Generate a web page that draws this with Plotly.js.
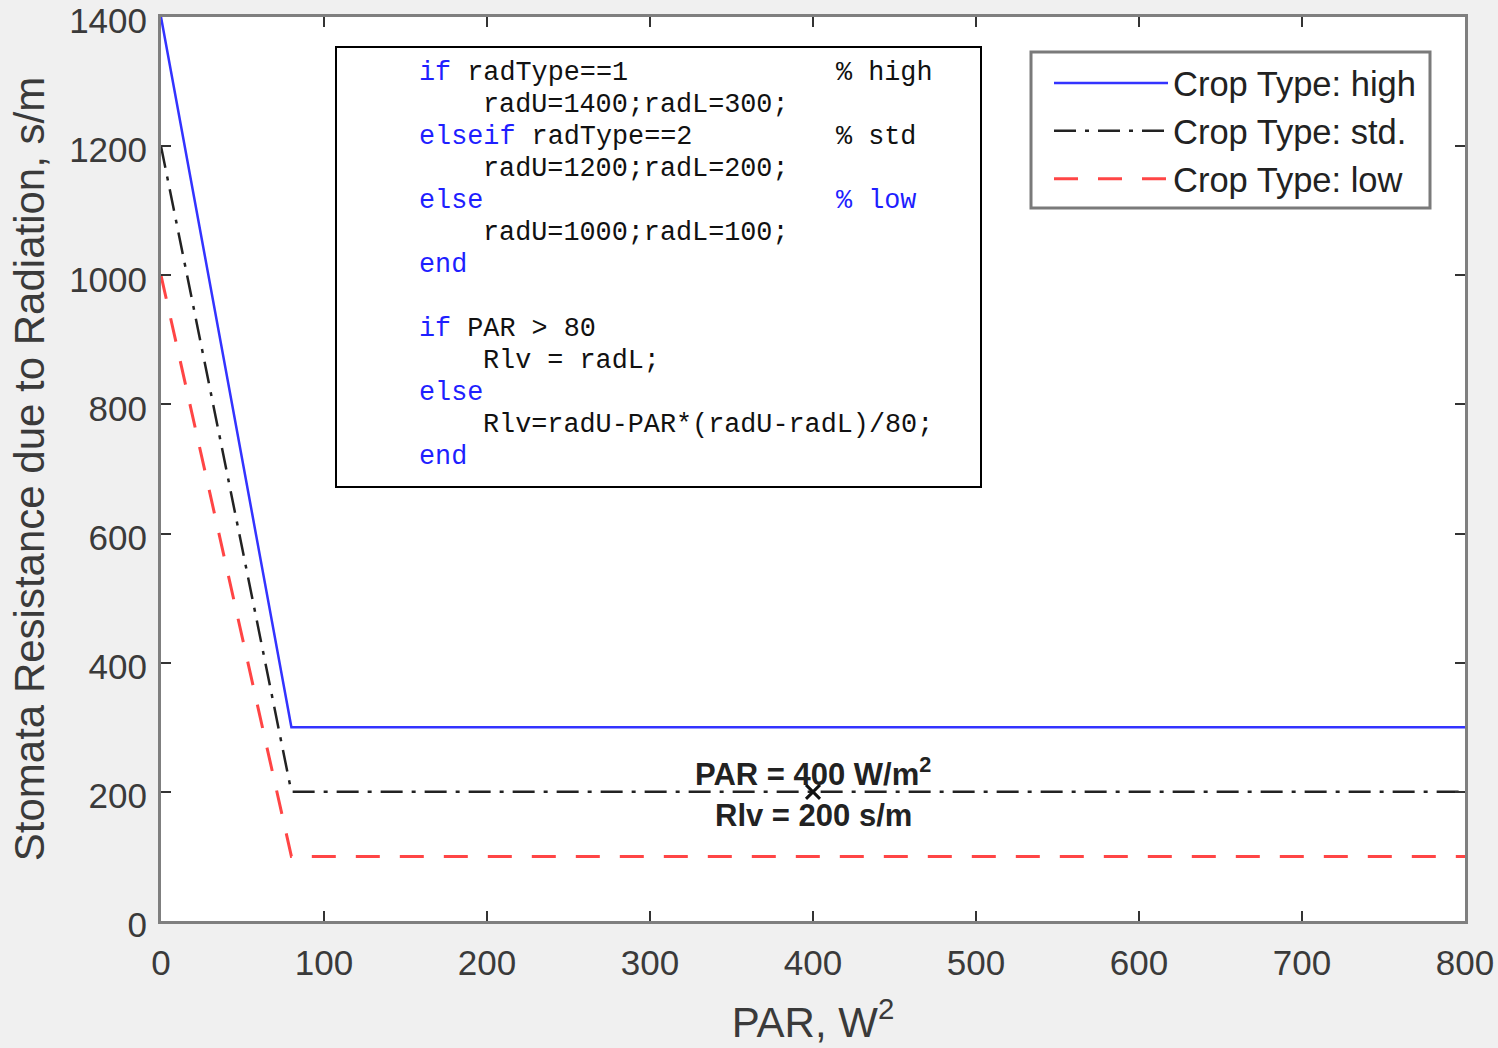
<!DOCTYPE html>
<html>
<head>
<meta charset="utf-8">
<script src="https://cdn.plot.ly/plotly-3.0.1.min.js"></script>
<style>
  html, body { margin: 0; padding: 0; background: #f0f0f0; }
  #chart { width: 1498px; height: 1048px; }
</style>
</head>
<body>
<div id="chart"></div>
<script>
// PAR breakpoints (W/m^2) and stomatal resistance for each crop type (s/m)
const parValues = [0, 80, 800];
const rlvHigh = [1400, 300, 300];
const rlvStd = [1200, 200, 200];
const rlvLow = [1000, 100, 100];
const seriesNames = ['Crop Type: high', 'Crop Type: std.', 'Crop Type: low'];
const xTicks = [0, 100, 200, 300, 400, 500, 600, 700, 800];
const yTicks = [0, 200, 400, 600, 800, 1000, 1200, 1400];

// Data tip on the std. curve
const tipPar = 400;
const tipRlv = 200;

// Model source listing shown inside the axes: [indent, head, head colour, rest, comment, comment colour]
const codeLines = [
  [0, 'if', 'kw', ' radType==1', '% high', 'txt'],
  [1, 'radU=1400;radL=300;', 'txt', '', '', ''],
  [0, 'elseif', 'kw', ' radType==2', '% std', 'txt'],
  [1, 'radU=1200;radL=200;', 'txt', '', '', ''],
  [0, 'else', 'kw', '', '% low', 'kw'],
  [1, 'radU=1000;radL=100;', 'txt', '', '', ''],
  [0, 'end', 'kw', '', '', ''],
  [0, '', 'txt', '', '', ''],
  [0, 'if', 'kw', ' PAR > 80', '', ''],
  [1, 'Rlv = radL;', 'txt', '', '', ''],
  [0, 'else', 'kw', '', '', ''],
  [1, 'Rlv=radU-PAR*(radU-radL)/80;', 'txt', '', '', ''],
  [0, 'end', 'kw', '', '', '']
];

const W = 1498, H = 1048;
const M = { l: 161, r: 33, t: 17, b: 127 };
const plotW = W - M.l - M.r, plotH = H - M.t - M.b;
const px = x => (x - M.l) / plotW;
const py = y => (H - M.b - y) / plotH;

const colours = { kw: '#1f1fff', txt: '#111111' };
const nb = s => s.replace(/ /g, '\u00a0');
const sans = 'Liberation Sans, Arial, sans-serif';
const mono = 'Liberation Mono, Courier New, monospace';

const traces = [
  { x: parValues, y: rlvHigh, name: seriesNames[0], mode: 'lines',
    line: { color: '#3333ff', width: 2.5 } },
  { x: parValues, y: rlvStd, name: seriesNames[1], mode: 'lines',
    line: { color: '#222222', width: 2.5, dash: '22px,9px,4px,9px' } },
  { x: parValues, y: rlvLow, name: seriesNames[2], mode: 'lines',
    line: { color: '#ff4545', width: 3, dash: '24px,20px' } },
  { x: [tipPar], y: [tipRlv], mode: 'markers', showlegend: false, hoverinfo: 'skip',
    marker: { symbol: 'x-thin', size: 14, line: { color: '#111', width: 3 } } }
];

const annotations = [];
const lineStep = 32, firstY = 73;
codeLines.forEach((ln, i) => {
  const y = firstY + i * lineStep;
  const [indent, head, headCol, rest, comment, commentCol] = ln;
  if (head) {
    const x0 = indent ? 481 : 417;
    let txt = `<span style="color:${colours[headCol]}">${nb(head)}</span>`;
    if (rest) txt += `<span style="color:${colours.txt}">${nb(rest)}</span>`;
    annotations.push({ xref: 'paper', yref: 'paper', x: px(x0), y: py(y),
      xanchor: 'left', yanchor: 'middle', showarrow: false, text: txt,
      font: { family: mono, size: 26.8, color: colours[headCol] } });
  }
  if (comment) {
    annotations.push({ xref: 'paper', yref: 'paper', x: px(834), y: py(y),
      xanchor: 'left', yanchor: 'middle', showarrow: false, text: nb(comment),
      font: { family: mono, size: 26.8, color: colours[commentCol] } });
  }
});

annotations.push(
  { x: tipPar, y: tipRlv, xref: 'x', yref: 'y', showarrow: false, yshift: 20,
    text: `<b>PAR = ${tipPar} W/m<sup>2</sup></b>`,
    font: { family: sans, size: 31, color: '#222' } },
  { x: tipPar, y: tipRlv, xref: 'x', yref: 'y', showarrow: false, yshift: -24,
    text: `<b>Rlv = ${tipRlv} s/m</b>`,
    font: { family: sans, size: 31, color: '#222' } }
);

const shapes = [
  // code listing frame
  { type: 'rect', xref: 'paper', yref: 'paper', x0: px(336), x1: px(981), y0: py(487), y1: py(47),
    line: { color: '#000', width: 2 }, fillcolor: '#ffffff', layer: 'below' },
  // legend frame
  { type: 'rect', xref: 'paper', yref: 'paper', x0: px(1031), x1: px(1430), y0: py(208), y1: py(52),
    line: { color: '#7a7a7a', width: 3 }, fillcolor: '#ffffff', layer: 'below' }
];

const axisCommon = {
  showgrid: false, zeroline: false, showline: true, linecolor: '#7f7f7f', linewidth: 3,
  ticks: 'inside', ticklen: 10, tickwidth: 2, tickcolor: '#333', mirror: 'ticks',
  ticklabeloverflow: 'allow',
  tickfont: { family: sans, size: 35, color: '#3a3a3a' },
  fixedrange: true
};

const layout = {
  width: W, height: H,
  margin: M,
  paper_bgcolor: '#f0f0f0', plot_bgcolor: '#ffffff',
  showlegend: true,
  legend: {
    x: px(1049), y: py(54), xanchor: 'left', yanchor: 'top',
    bgcolor: 'rgba(0,0,0,0)', borderwidth: 0,
    itemwidth: 114,
    font: { family: sans, size: 34.5, color: '#222' },
    tracegroupgap: 0
  },
  xaxis: Object.assign({}, axisCommon, {
    range: [0, 800], tickvals: xTicks, ticktext: xTicks.map(String),
    ticklabelstandoff: 9,
    title: { text: 'PAR, W<sup>2</sup>', standoff: 27,
      font: { family: sans, size: 42, color: '#3a3a3a' } }
  }),
  yaxis: Object.assign({}, axisCommon, {
    range: [0, 1400], tickvals: yTicks, ticktext: yTicks.map(String),
    ticklabelstandoff: 4, ticklabelshift: 4,
    title: { text: 'Stomata Resistance due to Radiation, s/m', standoff: 12,
      font: { family: sans, size: 42, color: '#3a3a3a' } }
  }),
  shapes: shapes,
  annotations: annotations
};

Plotly.newPlot('chart', traces, layout, { displayModeBar: false, staticPlot: true });
</script>
</body>
</html>
